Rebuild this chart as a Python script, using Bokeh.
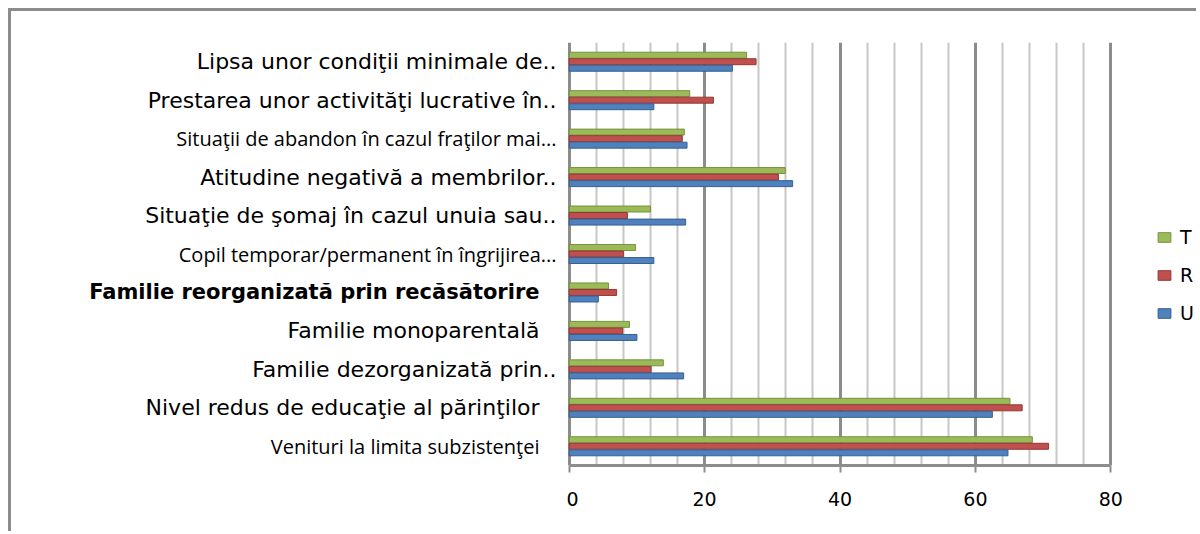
from bokeh.plotting import figure
from bokeh.models import (ColumnDataSource, Range1d, FactorRange, FixedTicker,
                          Legend, LegendItem)
from bokeh.transform import dodge
from bokeh.layouts import row
from bokeh.embed import file_html
from bokeh.resources import INLINE

# ---------------- data (categories listed bottom -> top) ----------------
categories = [
    "Venituri la limita subzistenţei",
    "Nivel redus de educaţie al părinţilor",
    "Familie dezorganizată prin..",
    "Familie monoparentală",
    "Familie reorganizată prin recăsătorire",
    "Copil temporar/permanent în îngrijirea...",
    "Situaţie de şomaj în cazul unuia sau..",
    "Atitudine negativă a membrilor..",
    "Situaţii de abandon în cazul fraţilor mai...",
    "Prestarea unor activităţi lucrative în..",
    "Lipsa unor condiţii minimale de..",
]
U_values = [64.8, 62.5, 16.9, 10.0, 4.3, 12.5, 17.2, 33.0, 17.4, 12.5, 24.1]
R_values = [70.8, 66.9, 12.1, 7.9, 7.0, 8.0, 8.6, 30.9, 16.7, 21.3, 27.6]
T_values = [68.4, 65.1, 13.9, 8.9, 5.8, 9.8, 12.0, 31.9, 17.0, 17.8, 26.2]
series_names = ["T", "R", "U"]
x_axis_max = 80
x_major_ticks = list(range(0, x_axis_max + 1, 20))
x_minor_ticks = [t for t in range(0, x_axis_max + 1, 4) if t % 20 != 0]

# ---------------- label styling (font, size, weight, right offset) -------
WIDE = "DejaVu Sans"
LIGHT = "Open Sans"
label_style = {
    "Venituri la limita subzistenţei": (LIGHT, "20px", "normal", -27),
    "Nivel redus de educaţie al părinţilor": (WIDE, "22px", "normal", -27),
    "Familie dezorganizată prin..": (WIDE, "22px", "normal", -10),
    "Familie monoparentală": (WIDE, "22px", "normal", -27),
    "Familie reorganizată prin recăsătorire": (WIDE, "21px", "bold", -27),
    "Copil temporar/permanent în îngrijirea...": (LIGHT, "20px", "normal", -10),
    "Situaţie de şomaj în cazul unuia sau..": (WIDE, "22px", "normal", -10),
    "Atitudine negativă a membrilor..": (WIDE, "22px", "normal", -10),
    "Situaţii de abandon în cazul fraţilor mai...": (LIGHT, "20px", "normal", -10),
    "Prestarea unor activităţi lucrative în..": (WIDE, "22px", "normal", -10),
    "Lipsa unor condiţii minimale de..": (WIDE, "22px", "normal", -10),
}

GREEN = "#9BBB59"
RED = "#C0504D"
BLUE = "#4F81BD"
GREEN_EDGE = "#76923C"
RED_EDGE = "#943634"
BLUE_EDGE = "#365F91"
GRID_MAJOR = "#8C8C8C"
GRID_MINOR = "#C6C6C6"

H = 520
TOP = 31
BOTTOM = 66

yr = FactorRange(factors=categories, range_padding=0)

# ---------------- label panel ----------------
lab = figure(width=555, height=H, y_range=yr, x_range=Range1d(0, 1),
             x_axis_type=None, y_axis_type=None,
             output_backend="svg", toolbar_location=None,
             min_border_left=0, min_border_right=0,
             min_border_top=TOP, min_border_bottom=BOTTOM,
             outline_line_color=None, background_fill_color=None,
             border_fill_color="white")
lab_src = ColumnDataSource(dict(
    y=categories,
    x=[1.0] * len(categories),
    text=categories,
    font=[label_style[c][0] for c in categories],
    size=[label_style[c][1] for c in categories],
    style=[label_style[c][2] for c in categories],
    xoff=[label_style[c][3] for c in categories],
))
lab.text(x="x", y="y", text="text", source=lab_src,
         text_font="font", text_font_size="size", text_font_style="style",
         x_offset="xoff", text_align="right", text_baseline="middle",
         text_color="#000000")

# ---------------- bar panel (frame extends to hold the legend) ----------
p = figure(width=630, height=H, y_range=yr, x_range=Range1d(-0.4, 92.65),
           y_axis_type=None,
           output_backend="svg", toolbar_location=None,
           min_border_left=0, min_border_right=0,
           min_border_top=TOP, min_border_bottom=BOTTOM,
           outline_line_color=None, border_fill_color="white")

src = ColumnDataSource(dict(cat=categories, U=U_values, R=R_values, T=T_values))

bar_h = 0.155
rT = p.hbar(y=dodge("cat", 0.17, range=p.y_range), left=0, right="T", height=bar_h,
            source=src, fill_color=GREEN, line_color=GREEN_EDGE, line_width=1)
rR = p.hbar(y=dodge("cat", 0.0, range=p.y_range), left=0, right="R", height=bar_h,
            source=src, fill_color=RED, line_color=RED_EDGE, line_width=1)
rU = p.hbar(y=dodge("cat", -0.17, range=p.y_range), left=0, right="U", height=bar_h,
            source=src, fill_color=BLUE, line_color=BLUE_EDGE, line_width=1)

p.xaxis.ticker = FixedTicker(ticks=x_major_ticks, minor_ticks=x_minor_ticks)
p.xaxis.bounds = (0, x_axis_max)
p.xgrid.grid_line_color = GRID_MAJOR
p.xgrid.grid_line_width = 3
p.xgrid.minor_grid_line_color = GRID_MINOR
p.xgrid.minor_grid_line_width = 2
p.xaxis.axis_line_color = GRID_MAJOR
p.xaxis.axis_line_width = 3
p.xaxis.major_tick_line_color = GRID_MAJOR
p.xaxis.major_tick_line_width = 2
p.xaxis.major_tick_out = 7
p.xaxis.major_tick_in = 0
p.xaxis.minor_tick_line_color = None
p.xaxis.major_label_text_font = WIDE
p.xaxis.major_label_text_font_size = "19px"
p.xaxis.major_label_text_color = "#000000"
p.xaxis.major_label_standoff = 19

legend = Legend(items=[LegendItem(label=series_names[0], renderers=[rT]),
                       LegendItem(label=series_names[1], renderers=[rR]),
                       LegendItem(label=series_names[2], renderers=[rU])],
                location=(590, 141), padding=0, margin=0,
                border_line_color=None, background_fill_alpha=0,
                glyph_width=16, glyph_height=12, label_standoff=8,
                spacing=16, label_text_font=WIDE,
                label_text_font_size="19px", label_text_color="#000000")
p.add_layout(legend, "center")

layout = row(lab, p, styles={"border-top": "3px solid #8C8C8C",
                             "border-left": "3px solid #8C8C8C",
                             "margin-top": "8px", "margin-left": "8px"})

open("out.html", "w").write(file_html(layout, INLINE))
